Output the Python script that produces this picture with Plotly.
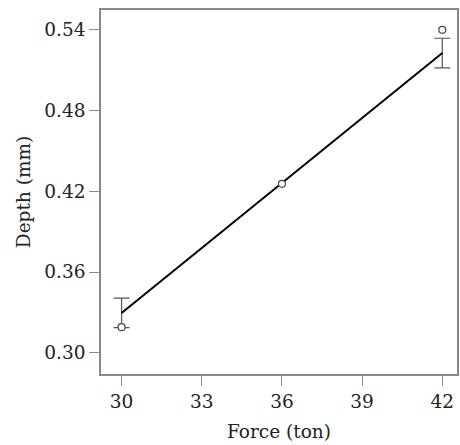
import plotly.graph_objects as go

force = [30, 36, 42]
observed_depth = [0.319, 0.4255, 0.540]
fit_x = [30, 42]
fit_depth = [0.3296, 0.5227]
fit_err = [0.011, 0.011]
x_ticks = [30, 33, 36, 39, 42]
y_ticks = [0.30, 0.36, 0.42, 0.48, 0.54]
y_tick_text = ["0.30", "0.36", "0.42", "0.48", "0.54"]

font_family = "DejaVu Serif"
fsize = 18.5

fig = go.Figure()
fig.add_trace(go.Scatter(
    x=fit_x, y=fit_depth, mode="lines",
    line=dict(color="black", width=2),
    error_y=dict(type="data", array=fit_err, visible=True,
                 color="#555555", thickness=1.2, width=8),
    showlegend=False,
))
fig.add_trace(go.Scatter(
    x=force, y=observed_depth, mode="markers",
    marker=dict(symbol="circle", size=7, color="white",
                line=dict(width=1.2, color="#444444")),
    showlegend=False,
))

axis_common = dict(
    showgrid=False, zeroline=False, showline=True, linecolor="#888888",
    linewidth=1.5, mirror=True, ticks="outside", ticklen=10,
    tickcolor="#888888", tickwidth=1,
    tickfont=dict(family=font_family, size=fsize, color="#222222"),
)

fig.update_layout(
    width=460, height=445,
    margin=dict(l=101, r=1, t=10, b=71),
    paper_bgcolor="white", plot_bgcolor="white",
    xaxis=dict(range=[29.23, 42.55], tickvals=x_ticks,
               title=dict(text="Force (ton)", standoff=14,
                          font=dict(family=font_family, size=fsize, color="#222222")),
               **axis_common),
    yaxis=dict(range=[0.2842, 0.5547], tickvals=y_ticks, ticktext=y_tick_text,
               title=dict(text="Depth (mm)", standoff=9,
                          font=dict(family=font_family, size=fsize, color="#222222")),
               **axis_common),
)

fig.write_html("out.html", config={"displayModeBar": False},
               post_script="document.body.style.margin='0';document.body.style.overflow='hidden';")
